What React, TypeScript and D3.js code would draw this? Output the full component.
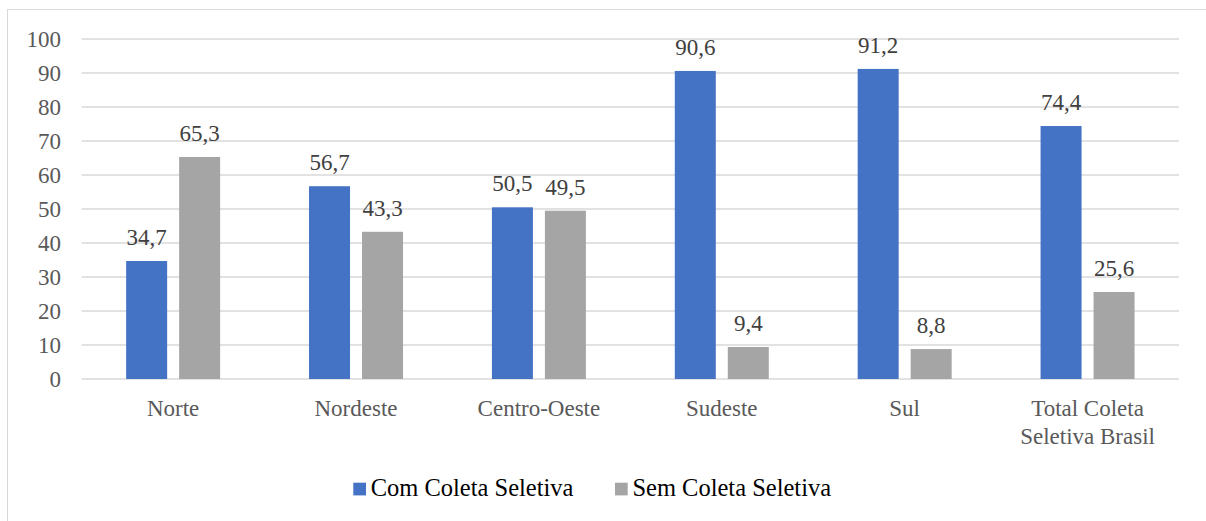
import React from "react";
import * as d3 from "d3";

const categories = ["Norte", "Nordeste", "Centro-Oeste", "Sudeste", "Sul", "Total Coleta Seletiva Brasil"];
const categoryLines = [["Norte"], ["Nordeste"], ["Centro-Oeste"], ["Sudeste"], ["Sul"], ["Total Coleta", "Seletiva Brasil"]];
const seriesNames = ["Com Coleta Seletiva", "Sem Coleta Seletiva"];
const comColeta = [34.7, 56.7, 50.5, 90.6, 91.2, 74.4];
const semColeta = [65.3, 43.3, 49.5, 9.4, 8.8, 25.6];
const yTicks = [0, 10, 20, 30, 40, 50, 60, 70, 80, 90, 100];
const colors = ["#4472C4", "#A5A5A5"];

const W = 1206;
const H = 521;
const FONT = '"Liberation Serif", "Times New Roman", "DejaVu Serif", serif';

export default function App() {
  const x0 = d3.scaleBand<string>().domain(categories).range([81.7, 1179]).paddingInner(0).paddingOuter(0);
  const x1 = d3.scaleBand<string>().domain(seriesNames).range([0, x0.bandwidth()]).paddingInner(12 / 53).paddingOuter(0.8387);
  const y = d3.scaleLinear().domain([0, 100]).range([379, 39]);
  const values = [comColeta, semColeta];
  const fmt = (v: number) => v.toFixed(1).replace(".", ",");
  const ts = { fontFamily: FONT };

  return (
    <svg width={W} height={H} style={{ position: "absolute", left: 0, top: 0, background: "#fff", fontFamily: FONT }}>
      <rect x={0} y={0} width={W} height={H} fill="#fff" />
      <rect x={7.5} y={9.5} width={1200} height={520} fill="none" stroke="#D9D9D9" strokeWidth={1} />
      {yTicks.map((t) => (
        <g key={t}>
          <line x1={81.7} x2={1179} y1={y(t)} y2={y(t)} stroke="#D9D9D9" strokeWidth={1.3} />
          <text x={61} y={y(t)} dy="0.35em" textAnchor="end" fontSize={23} fill="#595959" style={ts}>{t}</text>
        </g>
      ))}
      {categories.map((c, i) => (
        <g key={c}>
          {seriesNames.map((s, j) => {
            const v = values[j][i];
            const bx = (x0(c) ?? 0) + (x1(s) ?? 0);
            return (
              <g key={s}>
                <rect x={bx} y={y(v)} width={x1.bandwidth()} height={y(0) - y(v)} fill={colors[j]} />
                <text x={bx + x1.bandwidth() / 2} y={y(v) - 16} textAnchor="middle" fontSize={23} fill="#404040" style={ts}>{fmt(v)}</text>
              </g>
            );
          })}
          <text textAnchor="middle" fontSize={23} fill="#595959" style={ts}>
            {categoryLines[i].map((ln, k) => (
              <tspan key={k} x={(x0(c) ?? 0) + x0.bandwidth() / 2} y={416 + k * 28}>{ln}</tspan>
            ))}
          </text>
        </g>
      ))}
      {seriesNames.map((s, j) => {
        const lx = j === 0 ? 353.3 : 615;
        return (
          <g key={s}>
            <rect x={lx} y={482.7} width={12.7} height={12.7} fill={colors[j]} />
            <text x={lx + 17.4} y={496} fontSize={24.5} fill="#000" style={ts}>{s}</text>
          </g>
        );
      })}
    </svg>
  );
}
